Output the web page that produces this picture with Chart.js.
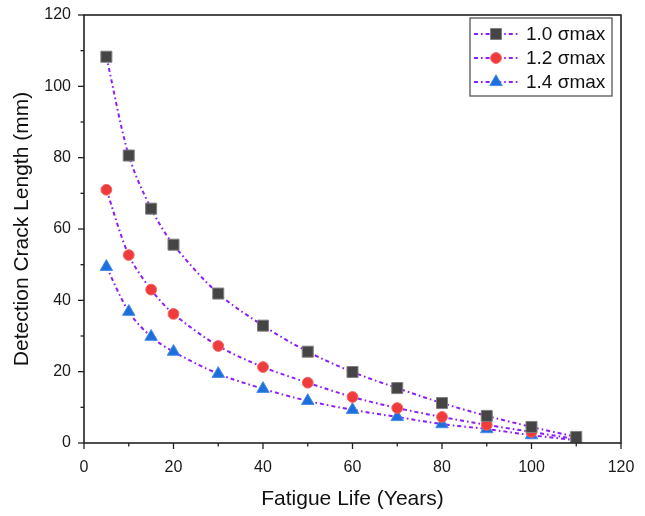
<!DOCTYPE html>
<html><head><meta charset="utf-8">
<script src="https://cdn.jsdelivr.net/npm/chart.js@4/dist/chart.umd.min.js"></script>
<style>html,body{margin:0;padding:0;background:#fff}#wrap{width:645px;height:516px;position:relative}</style>
</head><body><div id="wrap"><canvas id="c" width="645" height="516"></canvas></div>
<script>
const years = [5,10,15,20,30,40,50,60,70,80,90,100,110];
const s10 = [108.3,80.6,65.7,55.6,41.9,32.9,25.6,19.9,15.4,11.2,7.6,4.5,1.7];
const s12 = [71.0,52.7,43.0,36.2,27.2,21.3,16.9,12.9,9.8,7.3,5.1,3.1,1.1];
const s14 = [49.4,36.8,29.8,25.6,19.4,15.2,11.8,9.3,7.3,5.3,3.9,2.2,0.8];
const seriesNames = ['1.0 σmax','1.2 σmax','1.4 σmax'];
const xTicks = [0,20,40,60,80,100,120];
const yTicks = [0,20,40,60,80,100,120];

const FONT = "'Liberation Sans', Arial, sans-serif";
const LINE = '#8e1cf5';
const DASH = [4,3,1.6,3];
function ds(label, vals, style, fill, border, r){
  return {label, data: years.map((x,i)=>({x, y: vals[i]})), borderColor: LINE, borderWidth: 2,
    borderDash: DASH, tension: 0.3, pointStyle: style, pointRadius: r, pointHoverRadius: r,
    pointBackgroundColor: fill, pointBorderColor: border, pointBorderWidth: 1, fill:false};
}
const datasets = [
  ds(seriesNames[0], s10, 'rect', '#454545', '#808080', 7.8),
  ds(seriesNames[1], s12, 'circle', '#ef3b3b', '#f26464', 5.4),
  ds(seriesNames[2], s14, 'triangle', '#1e6fdc', '#4a8ce8', 7.2)
];

const framePlugin = {
  id: 'frame',
  afterDraw(chart){
    const {ctx, chartArea:a, scales:{x,y}} = chart;
    ctx.save();
    ctx.strokeStyle = '#222'; ctx.lineWidth = 1.6;
    ctx.strokeRect(a.left, a.top, a.right-a.left, a.bottom-a.top);
    ctx.lineWidth = 1.3;
    for(let v=0; v<=120; v+=10){
      const len = (v%20===0)?6:3.5;
      const px = x.getPixelForValue(v);
      ctx.beginPath(); ctx.moveTo(px, a.bottom); ctx.lineTo(px, a.bottom+len); ctx.stroke();
      const py = y.getPixelForValue(v);
      ctx.beginPath(); ctx.moveTo(a.left, py); ctx.lineTo(a.left-len, py); ctx.stroke();
    }
    // legend
    const lx = 470, ly = 18, lw = 142, lh = 78;
    ctx.fillStyle = '#fff'; ctx.fillRect(lx, ly, lw, lh);
    ctx.strokeStyle = '#555'; ctx.lineWidth = 1.3; ctx.strokeRect(lx, ly, lw, lh);
    chart.data.datasets.forEach((d,i)=>{
      const cy = ly + 16 + i*24;
      ctx.strokeStyle = LINE; ctx.lineWidth = 2; ctx.setLineDash(DASH);
      ctx.beginPath(); ctx.moveTo(lx+4, cy); ctx.lineTo(lx+50, cy); ctx.stroke();
      ctx.setLineDash([]);
      ctx.fillStyle = d.pointBackgroundColor; ctx.strokeStyle = d.pointBorderColor; ctx.lineWidth = 1;
      Chart.helpers.drawPoint(ctx, {pointStyle: d.pointStyle, rotation:0, borderWidth:1, radius: d.pointRadius}, lx+26, cy);
      ctx.fillStyle = '#111'; ctx.font = '19px ' + FONT; ctx.textBaseline = 'middle'; ctx.textAlign='left';
      ctx.fillText(d.label, lx+56, cy+1);
    });
    ctx.restore();
  }
};

new Chart(document.getElementById('c'), {
  type: 'line',
  data: { datasets },
  options: {
    responsive: false, animation: false,
    layout: { padding: { left: 0, top: 15, right: 24, bottom: 0 } },
    plugins: { legend: { display: false }, tooltip: { enabled: false } },
    scales: {
      x: { type: 'linear', min: 0, max: 120,
        afterBuildTicks(s){ s.ticks = xTicks.map(v=>({value:v})); },
        afterFit(s){ s.height = 73; s.paddingLeft = 0; s.paddingRight = 0; },
        grid: { display: false, drawTicks: false }, border: { display: false },
        ticks: { color: '#1a1a1a', font: { family: FONT, size: 16 }, padding: 15, maxRotation: 0 },
        title: { display: true, text: 'Fatigue Life (Years)', color: '#111', font: { family: FONT, size: 21 }, padding: { top: 4, bottom: 4 } }
      },
      y: { type: 'linear', min: 0, max: 120,
        afterBuildTicks(s){ s.ticks = yTicks.map(v=>({value:v})); },
        afterFit(s){ s.width = 84; s.paddingTop = 0; s.paddingBottom = 0; },
        grid: { display: false, drawTicks: false }, border: { display: false },
        ticks: { color: '#1a1a1a', font: { family: FONT, size: 16 }, padding: 13 },
        title: { display: true, text: 'Detection Crack Length (mm)', color: '#111', font: { family: FONT, size: 21 }, padding: { top: 10, bottom: 4 } }
      }
    }
  },
  plugins: [framePlugin]
});
</script></body></html>
